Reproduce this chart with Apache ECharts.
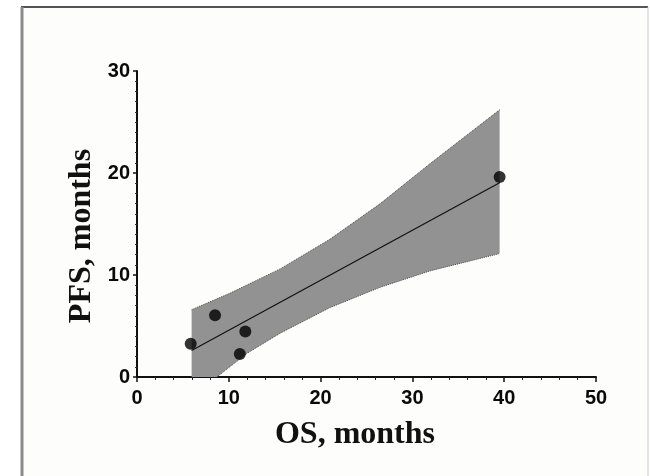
<!DOCTYPE html>
<html>
<head>
<meta charset="utf-8">
<script src="https://cdn.jsdelivr.net/npm/echarts@6/dist/echarts.min.js"></script>
<style>html,body{margin:0;padding:0;background:#fff}#c{width:650px;height:476px}</style>
</head>
<body>
<div id="c"></div>
<script>
// Data
var osMonths = [5.85, 8.5, 11.8, 11.2, 39.5];
var pfsMonths = [3.25, 6.05, 4.45, 2.25, 19.6];

var fitX = [5.95, 39.5];
var fitY = [2.6, 19.05];

var upperX = [5.95, 10.1, 15.6, 21.0, 26.5, 31.9, 39.5];
var upperY = [6.6, 8.2, 10.6, 13.5, 17.0, 20.9, 26.2];
var lowerX = [5.95, 8.7, 11.95, 15.6, 21.0, 26.5, 31.9, 39.5];
var lowerY = [-2.0, 0, 2.3, 4.3, 6.8, 8.8, 10.4, 12.1];

var xTicks = [0, 10, 20, 30, 40, 50];
var yTicks = [0, 10, 20, 30];

function pairs(a, b) { return a.map(function (v, i) { return [v, b[i]]; }); }
var upperPts = pairs(upperX, upperY);
var lowerPts = pairs(lowerX, lowerY);
var bandPoly = upperPts.concat(lowerPts.slice().reverse());

var chart = echarts.init(document.getElementById('c'), null, {renderer: 'canvas'});
var tickFont = {color: '#0a0a0a', fontFamily: '"Liberation Sans", Arial, sans-serif', fontWeight: 'bold', fontSize: 20};
chart.setOption({
  backgroundColor: '#ffffff',
  animation: false,
  grid: {left: 137, right: 54, top: 71, bottom: 99, containLabel: false},
  xAxis: {
    type: 'value', min: xTicks[0], max: xTicks[xTicks.length - 1], interval: 10,
    splitLine: {show: false},
    axisLine: {show: true, onZero: false, lineStyle: {color: '#111', width: 2}},
    axisTick: {show: true, length: 5, lineStyle: {color: '#111', width: 1.5}},
    minorTick: {show: true, splitNumber: 5, length: 3, lineStyle: {color: '#222', width: 1}},
    axisLabel: Object.assign({margin: 11}, tickFont)
  },
  yAxis: {
    type: 'value', min: yTicks[0], max: yTicks[yTicks.length - 1], interval: 10,
    splitLine: {show: false},
    axisLine: {show: true, onZero: false, lineStyle: {color: '#111', width: 2}},
    axisTick: {show: true, length: 4, lineStyle: {color: '#111', width: 1.5}},
    minorTick: {show: true, splitNumber: 10, length: 2, lineStyle: {color: '#333', width: 1}},
    axisLabel: Object.assign({margin: 7}, tickFont)
  },
  graphic: [
    {type: 'rect', z: -10, shape: {x: 21, y: 7, width: 627, height: 480}, style: {fill: '#fdfdfb'}},
    {type: 'line', z: -5, shape: {x1: 21, y1: 7, x2: 648, y2: 7}, style: {stroke: '#555', lineWidth: 2}},
    {type: 'line', z: -5, shape: {x1: 22, y1: 7, x2: 22, y2: 476}, style: {stroke: '#8a8a8a', lineWidth: 3}},
    {type: 'line', z: -5, shape: {x1: 648, y1: 7, x2: 648, y2: 476}, style: {stroke: '#c8c8c8', lineWidth: 1}},
    {type: 'text', x: 82, y: 236, rotation: Math.PI / 2,
      style: {text: 'PFS, months', font: 'bold 32px "Liberation Serif", "Times New Roman", serif', fill: '#111', textAlign: 'center', textVerticalAlign: 'middle'}},
    {type: 'text', x: 355, y: 435,
      style: {text: 'OS, months', font: 'bold 32px "Liberation Serif", "Times New Roman", serif', fill: '#111', textAlign: 'center', textVerticalAlign: 'middle'}}
  ],
  series: [
    {
      type: 'custom', clip: true, z: 1,
      data: [0],
      renderItem: function (params, api) {
        var pts = bandPoly.map(function (p) { return api.coord(p); });
        return {type: 'polygon', shape: {points: pts}, style: {fill: '#929292', stroke: null}};
      }
    },
    {type: 'line', data: upperPts, symbol: 'none', z: 2, lineStyle: {color: '#4a4a4a', width: 1, type: 'dotted'}},
    {type: 'line', data: lowerPts, symbol: 'none', z: 2, lineStyle: {color: '#4a4a4a', width: 1, type: 'dotted'}},
    {type: 'line', data: pairs(fitX, fitY), symbol: 'none', z: 3, lineStyle: {color: '#111', width: 1.2}},
    {type: 'scatter', data: pairs(osMonths, pfsMonths), symbol: 'circle', symbolSize: 12, z: 4, itemStyle: {color: '#000'}}
  ]
});
</script>
</body>
</html>
